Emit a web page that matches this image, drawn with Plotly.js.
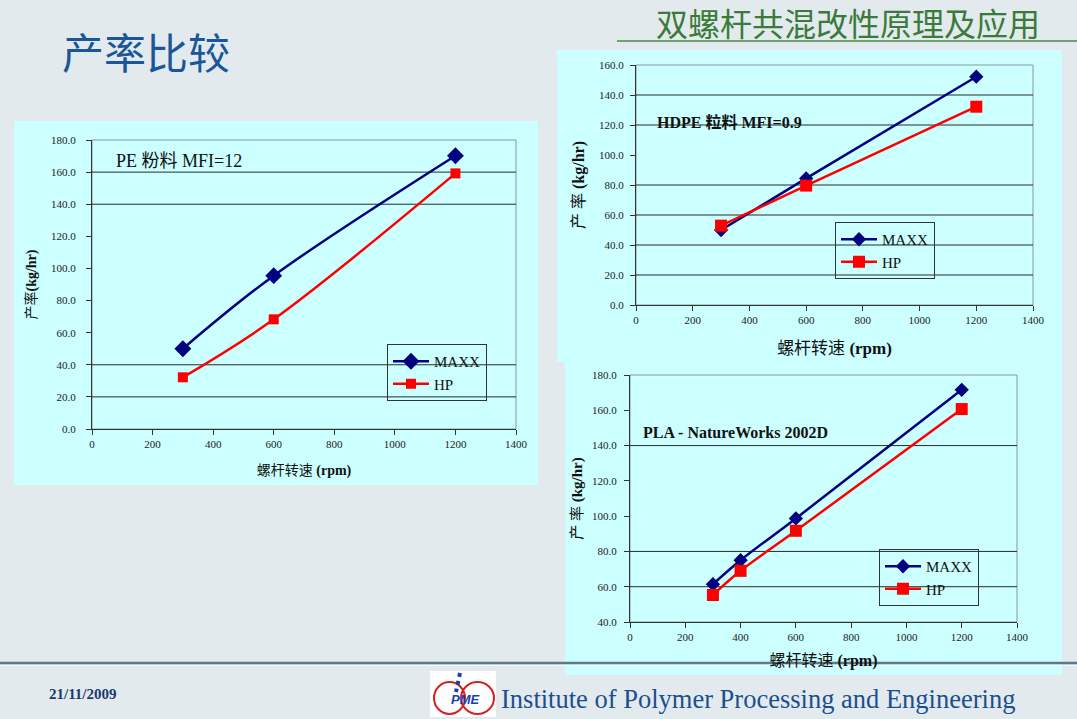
<!DOCTYPE html>
<html>
<head>
<meta charset="utf-8">
<script src="https://cdn.plot.ly/plotly-3.0.1.min.js"></script>
<style>html,body{margin:0;padding:0;background:#e2eaee;} #chart{width:1077px;height:719px;}</style>
</head>
<body>
<div id="chart"></div>
<script>
// ---------- data ----------
const xTicks = [0, 200, 400, 600, 800, 1000, 1200, 1400];
const seriesNames = ['MAXX', 'HP'];

const peSpeed = [300, 600, 1200];
const peMaxx = [50.0, 95.5, 170.2];
const peHp = [32.2, 68.3, 159.2];
const peGrid = [20, 40, 140, 160];

const hdpeSpeed = [300, 600, 1200];
const hdpeMaxx = [50.0, 84.4, 152.2];
const hdpeHp = [52.9, 79.6, 132.2];
const hdpeGrid = [20, 40, 60, 80, 120, 140];

const plaSpeed = [300, 400, 600, 1200];
const plaMaxx = [61.4, 75.0, 98.7, 171.6];
const plaHp = [55.3, 69.0, 91.7, 160.7];
const plaGrid = [60, 80, 140];

// ---------- helpers ----------
const W = 1077, H = 719;
const px = x => x / W;
const py = y => 1 - y / H;
const SERIF = 'Liberation Serif, Times New Roman, Noto Sans CJK SC, serif';
const NAVY = '#000080', RED = '#ff0000', INK = '#222222';

function series(x, y, name, idx, legend, shape) {
  const isMaxx = name === 'MAXX';
  return {
    type: 'scatter', mode: 'lines+markers', x: x, y: y, name: name,
    xaxis: 'x' + (idx === 1 ? '' : idx), yaxis: 'y' + (idx === 1 ? '' : idx),
    legend: legend,
    line: {color: isMaxx ? NAVY : RED, width: 2.5, shape: shape, smoothing: 1.0},
    marker: isMaxx ? {symbol: 'diamond', size: idx === 1 ? 13 : 11, color: NAVY}
                   : {symbol: 'square', size: idx === 1 ? 10 : 12, color: RED}
  };
}

function xAxis(domain, anchor, titleSize, standoff) {
  return {
    domain: domain, anchor: anchor, range: [0, 1400], tickvals: xTicks,
    ticks: 'outside', ticklen: 5, tickcolor: '#333', tickwidth: 1,
    showline: true, linecolor: '#333', linewidth: 1,
    showgrid: false, zeroline: false, fixedrange: true,
    tickfont: {family: SERIF, size: 11, color: INK},
    title: {text: '螺杆转速 <b>(rpm)</b>', font: {family: SERIF, size: titleSize, color: '#111'}, standoff: standoff}
  };
}
function yAxis(domain, anchor, range, titleText, titleSize, standoff, labelStandoff) {
  return {
    domain: domain, anchor: anchor, range: range, dtick: 20, tickformat: '.1f',
    ticks: 'outside', ticklen: 5, tickcolor: '#333', tickwidth: 1,
    ticklabelstandoff: labelStandoff,
    showline: true, linecolor: '#333', linewidth: 1,
    showgrid: false, zeroline: false, fixedrange: true,
    tickfont: {family: SERIF, size: 11, color: INK},
    title: {text: titleText, font: {family: SERIF, size: titleSize, color: '#111'}, standoff: standoff}
  };
}

const data = [
  series(peSpeed, peMaxx, seriesNames[0], 1, 'legend', 'spline'),
  series(peSpeed, peHp, seriesNames[1], 1, 'legend', 'spline'),
  series(hdpeSpeed, hdpeMaxx, seriesNames[0], 2, 'legend2', 'linear'),
  series(hdpeSpeed, hdpeHp, seriesNames[1], 2, 'legend2', 'linear'),
  series(plaSpeed, plaMaxx, seriesNames[0], 3, 'legend3', 'spline'),
  series(plaSpeed, plaHp, seriesNames[1], 3, 'legend3', 'spline')
];

const CYAN = '#ccffff';
const shapes = [
  // panels
  {type: 'rect', xref: 'paper', yref: 'paper', x0: px(14), x1: px(538), y0: py(485), y1: py(121), fillcolor: CYAN, line: {width: 0}, layer: 'below'},
  {type: 'rect', xref: 'paper', yref: 'paper', x0: px(557), x1: px(1062), y0: py(362), y1: py(50), fillcolor: CYAN, line: {width: 0}, layer: 'below'},
  {type: 'rect', xref: 'paper', yref: 'paper', x0: px(565), x1: px(1062), y0: py(675), y1: py(361), fillcolor: CYAN, line: {width: 0}, layer: 'below'},
  // header line
  {type: 'line', xref: 'paper', yref: 'paper', x0: px(617), x1: 1, y0: py(41), y1: py(41), line: {color: '#4a8a4a', width: 1.5}},
  // footer line
  {type: 'line', xref: 'paper', yref: 'paper', x0: 0, x1: 1, y0: py(663), y1: py(663), line: {color: '#5a7b8c', width: 2.5}, layer: 'below'},
  {type: 'line', xref: 'paper', yref: 'paper', x0: 0, x1: 1, y0: py(665.5), y1: py(665.5), line: {color: '#f4f8f9', width: 1}, layer: 'below'},
  // logo
  {type: 'rect', xref: 'paper', yref: 'paper', x0: px(430), x1: px(496), y0: py(717), y1: py(671), fillcolor: '#ffffff', line: {width: 0}},
  {type: 'circle', xref: 'paper', yref: 'paper', x0: px(434), x1: px(465), y0: py(714), y1: py(682), line: {color: '#d42020', width: 2}},
  {type: 'circle', xref: 'paper', yref: 'paper', x0: px(461), x1: px(494), y0: py(714), y1: py(682), line: {color: '#d42020', width: 2}},
  {type: 'line', xref: 'paper', yref: 'paper', x0: px(460), x1: px(456), y0: py(673), y1: py(692), line: {color: '#1a3fb0', width: 4, dash: 'dot'}}
];

// plot-area borders and partial gridlines, drawn through each subplot's axes
[['x', 'y', peGrid], ['x2', 'y2', hdpeGrid], ['x3', 'y3', plaGrid]].forEach(([xa, ya, grid]) => {
  shapes.push({type: 'rect', xref: xa + ' domain', yref: ya + ' domain', x0: 0, x1: 1, y0: 0, y1: 1, line: {color: '#8a9898', width: 1}, layer: 'below'});
  grid.forEach(v => shapes.push({type: 'line', xref: xa + ' domain', yref: ya, x0: 0, x1: 1, y0: v, y1: v, line: {color: '#2a2a2a', width: 1}, layer: 'below'}));
});

const annotations = [
  {xref: 'paper', yref: 'paper', x: px(654), y: py(22), xanchor: 'left', yanchor: 'middle', showarrow: false,
   text: '双螺杆共混改性原理及应用', font: {family: 'Noto Sans CJK SC', size: 32, color: '#3a7a3a'}},
  {xref: 'paper', yref: 'paper', x: px(114), y: py(161), xanchor: 'left', yanchor: 'middle', showarrow: false,
   text: 'PE 粉料 MFI=12', font: {family: SERIF, size: 18, color: '#111'}},
  {xref: 'paper', yref: 'paper', x: px(655), y: py(122), xanchor: 'left', yanchor: 'middle', showarrow: false,
   text: '<b>HDPE 粒料 MFI=0.9</b>', font: {family: SERIF, size: 16, color: '#111'}},
  {xref: 'paper', yref: 'paper', x: px(641), y: py(432), xanchor: 'left', yanchor: 'middle', showarrow: false,
   text: '<b>PLA - NatureWorks 2002D</b>', font: {family: SERIF, size: 16, color: '#111'}},
  {xref: 'paper', yref: 'paper', x: px(47), y: py(694), xanchor: 'left', yanchor: 'middle', showarrow: false,
   text: '<b>21/11/2009</b>', font: {family: SERIF, size: 15, color: '#1a3a6a'}},
  {xref: 'paper', yref: 'paper', x: px(465), y: py(699), xanchor: 'center', yanchor: 'middle', showarrow: false,
   text: '<b><i>PME</i></b>', font: {family: 'Liberation Sans, Arial, sans-serif', size: 13, color: '#1a3fb0'}},
  {xref: 'paper', yref: 'paper', x: px(499), y: py(699), xanchor: 'left', yanchor: 'middle', showarrow: false,
   text: 'Institute of Polymer Processing and Engineering', font: {family: SERIF, size: 26.5, color: '#1c4f8f'}}
];

function legendAt(x, y) {
  return {x: px(x), y: py(y), xanchor: 'left', yanchor: 'top', bgcolor: 'rgba(0,0,0,0)',
    bordercolor: '#333', borderwidth: 1, font: {family: SERIF, size: 15, color: '#111'},
    tracegroupgap: 0, itemwidth: 36};
}

const layout = {
  width: W, height: H,
  margin: {l: 0, r: 0, t: 0, b: 0},
  paper_bgcolor: '#e2eaee', plot_bgcolor: 'rgba(0,0,0,0)',
  title: {text: '产率比较', x: px(62), xanchor: 'left', y: py(54), yanchor: 'middle',
          font: {family: 'Noto Sans CJK SC', size: 42, color: '#1a5699'}},
  showlegend: true,
  xaxis: xAxis([px(92), px(516)], 'y', 14, 15),
  yaxis: yAxis([py(429), py(140)], 'x', [0, 180], '产率<b>(kg/hr)</b>', 14, 11, 8),
  xaxis2: xAxis([px(636), px(1033)], 'y2', 17, 16),
  yaxis2: yAxis([py(305), py(65)], 'x2', [0, 160], '产 率 <b>(kg/hr)</b>', 16, 10, 4),
  xaxis3: xAxis([px(630), px(1017)], 'y3', 16, 12),
  yaxis3: yAxis([py(622), py(375)], 'x3', [40, 180], '产 率 <b>(kg/hr)</b>', 15, 5, 5),
  legend: legendAt(387, 344),
  legend2: legendAt(835, 222),
  legend3: legendAt(879, 549),
  shapes: shapes,
  annotations: annotations
};

Plotly.newPlot('chart', data, layout, {displayModeBar: false, staticPlot: true});
</script>
</body>
</html>
